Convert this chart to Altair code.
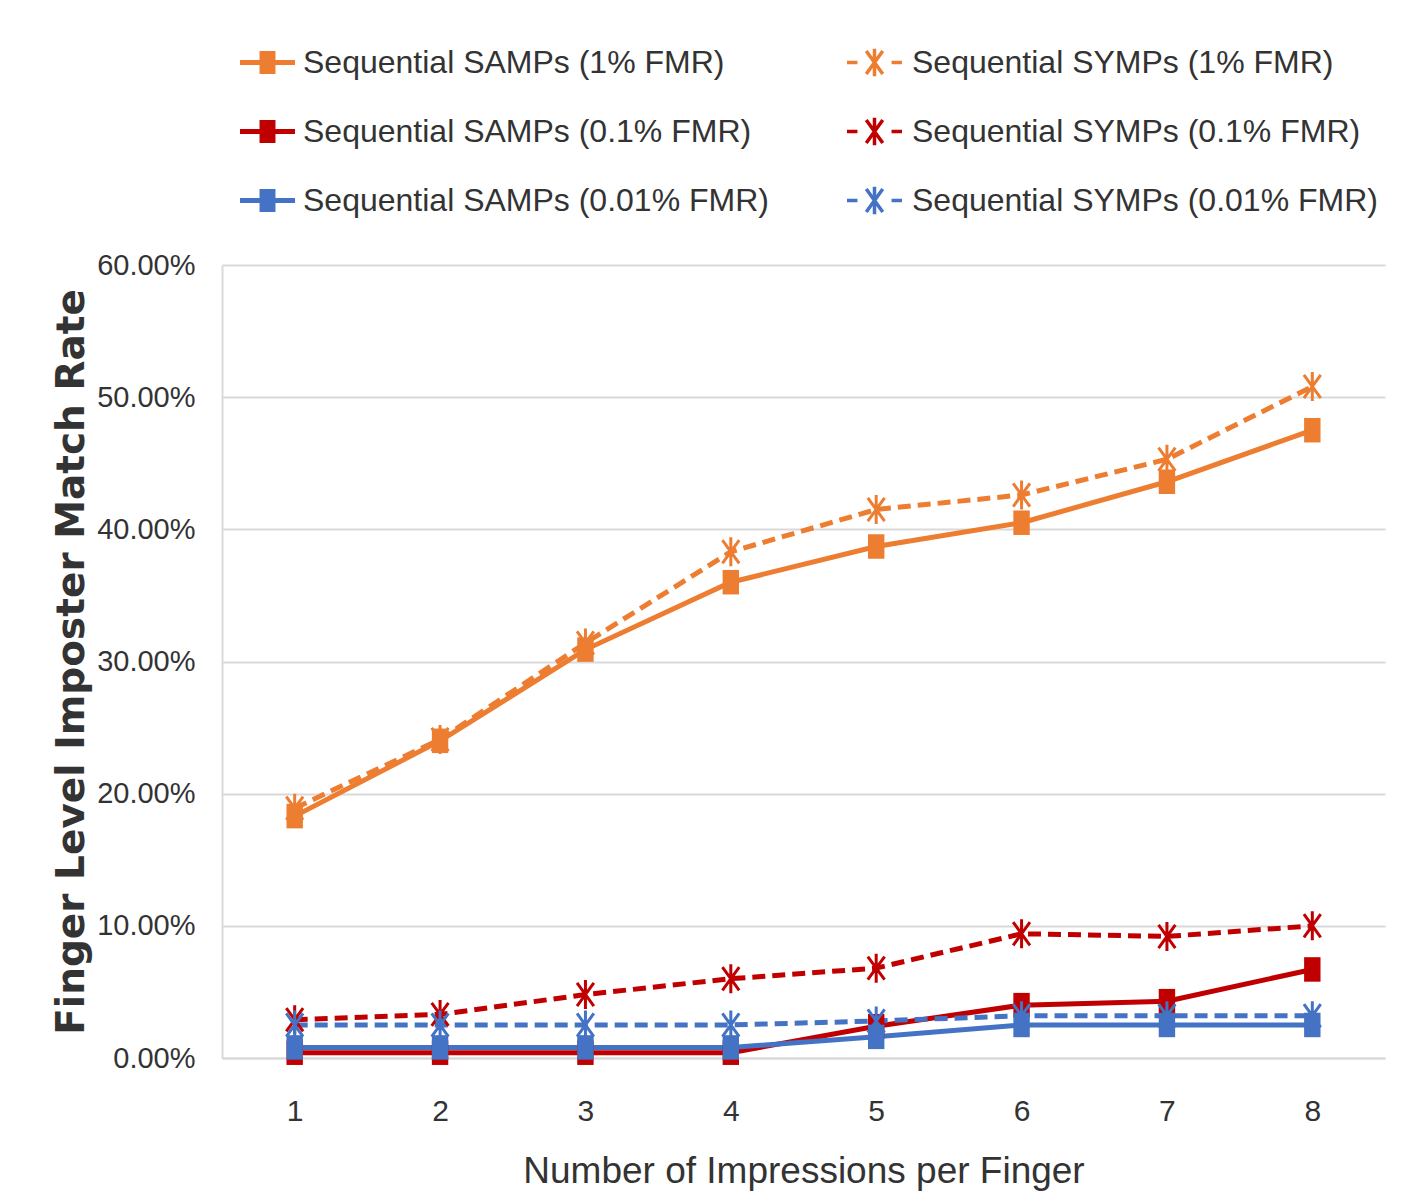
import altair as alt
import pandas as pd

impressions = [1, 2, 3, 4, 5, 6, 7, 8]

samp_names = ["Sequential SAMPs (1% FMR)", "Sequential SAMPs (0.1% FMR)", "Sequential SAMPs (0.01% FMR)"]
symp_names = ["Sequential SYMPs (1% FMR)", "Sequential SYMPs (0.1% FMR)", "Sequential SYMPs (0.01% FMR)"]
colors = ["#ED7D31", "#C00000", "#4472C4"]

# values in percent
samp_1 = [18.3, 24.0, 30.9, 36.0, 38.7, 40.5, 43.6, 47.5]
samp_01 = [0.4, 0.4, 0.4, 0.4, 2.4, 4.0, 4.3, 6.7]
samp_001 = [0.8, 0.8, 0.8, 0.8, 1.6, 2.5, 2.5, 2.5]
symp_1 = [18.9, 24.1, 31.4, 38.3, 41.5, 42.6, 45.3, 50.8]
symp_01 = [2.9, 3.3, 4.8, 6.0, 6.8, 9.4, 9.2, 10.0]
symp_001 = [2.5, 2.5, 2.5, 2.5, 2.8, 3.2, 3.2, 3.2]

y_ticks = [0, 0.1, 0.2, 0.3, 0.4, 0.5, 0.6]

rows = []
for name, vals in zip(samp_names, [samp_1, samp_01, samp_001]):
    for n, v in zip(impressions, vals):
        rows.append({"n": n, "rate": v / 100, "series": name, "kind": "SAMP"})
for name, vals in zip(symp_names, [symp_1, symp_01, symp_001]):
    for n, v in zip(impressions, vals):
        rows.append({"n": n, "rate": v / 100, "series": name, "kind": "SYMP"})
df = pd.DataFrame(rows)

FONT = "Liberation Sans, Arial, sans-serif"
TXT = "#333333"
GRID = "#d9d9d9"

SQUARE = "M-0.67,-1 H0.67 V1 H-0.67 Z"
ASTER = "M0,-1 V1 M-0.58,-0.8 L0.58,0.8 M0.58,-0.8 L-0.58,0.8"
SAMP_LEG = "M-1,-0.09 H1 V0.09 H-1 Z M-0.29,-0.42 H0.29 V0.42 H-0.29 Z"
SYMP_LEG = "M-1,0 H-0.62 M0.62,0 H1 M0,-0.5 V0.5 M-0.3,-0.42 L0.3,0.42 M0.3,-0.42 L-0.3,0.42"

x = alt.X(
    "n:O",
    title="Number of Impressions per Finger",
    scale=alt.Scale(type="point", padding=0.5),
    axis=alt.Axis(
        labelAngle=0, labelFont=FONT, labelFontSize=30, labelColor=TXT,
        labelPadding=38, ticks=False, tickSize=0, grid=False,
        domain=True, domainColor=GRID, domainWidth=2,
        titleFont=FONT, titleFontSize=37, titleFontWeight="normal",
        titleColor=TXT, titleY=124, titleBaseline="alphabetic",
    ),
)
y = alt.Y(
    "rate:Q",
    title="Finger Level Imposter Match Rate",
    scale=alt.Scale(domain=[0, 0.6], nice=False),
    axis=alt.Axis(
        values=y_ticks, format=".2%", labelFont=FONT, labelFontSize=29,
        labelColor=TXT, labelPadding=27, ticks=False, tickSize=0,
        grid=True, gridColor=GRID, gridWidth=2,
        domain=True, domainColor=GRID, domainWidth=2,
        titleFont="DejaVu Sans", titleFontSize=39, titleFontWeight="bold",
        titleColor=TXT, titleX=-151, titleBaseline="middle",
    ),
)

base = alt.Chart(df).encode(x=x, y=y)

samp_scale = alt.Scale(domain=samp_names, range=colors)
symp_scale = alt.Scale(domain=symp_names, range=colors)

legend_common = dict(
    orient="none", title=None, padding=0, direction="vertical",
    labelFont=FONT, labelFontSize=32, labelColor=TXT, labelOffset=8,
    labelLimit=800, symbolSize=3025, symbolOpacity=1,
)

samp = base.transform_filter(alt.datum.kind == "SAMP")
samp_lines = samp.mark_line(strokeWidth=5).encode(
    stroke=alt.Stroke("series:N", scale=samp_scale, legend=None)
)
samp_pts = samp.mark_point(shape=SQUARE, size=600, filled=True, opacity=1, strokeWidth=0).encode(
    color=alt.Color(
        "series:N", scale=samp_scale,
        legend=alt.Legend(legendX=18, legendY=-230, symbolType=SAMP_LEG,
                          symbolStrokeWidth=0, rowPadding=25, **legend_common),
    )
)

symp = base.transform_filter(alt.datum.kind == "SYMP")
symp_lines = symp.mark_line(strokeWidth=5, strokeDash=[13, 7]).encode(
    stroke=alt.Stroke("series:N", scale=symp_scale, legend=None)
)
symp_pts = symp.mark_point(shape=ASTER, size=841, filled=False, opacity=1, strokeWidth=3).encode(
    color=alt.Color(
        "series:N", scale=symp_scale,
        legend=alt.Legend(legendX=623, legendY=-232, symbolType=SYMP_LEG,
                          symbolStrokeWidth=3.5, rowPadding=18, **legend_common),
    )
)

chart = (
    alt.layer(samp_lines, symp_lines, samp_pts, symp_pts)
    .resolve_scale(color="independent", stroke="independent")
    .properties(
        width=1163, height=793,
        autosize=alt.AutoSizeParams(type="none"),
        padding={"left": 214, "top": 257, "right": 23, "bottom": 134},
        background="white",
    )
    .configure_view(stroke=None)
)

chart.save("out.html", embed_options={"renderer": "svg", "actions": False})
